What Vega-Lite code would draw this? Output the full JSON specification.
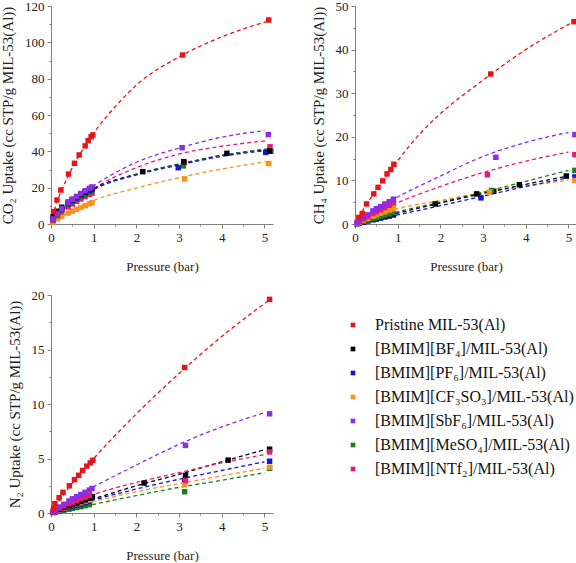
{
"$schema": "https://vega.github.io/schema/vega-lite/v6.json",
"padding": {"left": 0, "top": 0, "right": 0, "bottom": 0},
"datasets": {
"names": [
{"s":"R","name":"Pristine MIL-53(Al)"},
{"s":"BF4","name":"[BMIM][BF₄]/MIL-53(Al)"},
{"s":"PF6","name":"[BMIM][PF₆]/MIL-53(Al)"},
{"s":"CF3","name":"[BMIM][CF₃SO₃]/MIL-53(Al)"},
{"s":"SbF6","name":"[BMIM][SbF₆]/MIL-53(Al)"},
{"s":"MeSO4","name":"[BMIM][MeSO₄]/MIL-53(Al)"},
{"s":"NTf2","name":"[BMIM][NTf₂]/MIL-53(Al)"}
],
"d": [
{"g":"a","k":"f","s":"R","x":0,"y":0},{"g":"a","k":"f","s":"R","x":0.1,"y":9.5},{"g":"a","k":"f","s":"R","x":0.25,"y":18.5},{"g":"a","k":"f","s":"R","x":0.5,"y":31},{"g":"a","k":"f","s":"R","x":1,"y":50},{"g":"a","k":"f","s":"R","x":1.5,"y":64.5},{"g":"a","k":"f","s":"R","x":2,"y":76.5},{"g":"a","k":"f","s":"R","x":3,"y":92},{"g":"a","k":"f","s":"R","x":4,"y":103},{"g":"a","k":"f","s":"R","x":5.1,"y":111.8},
{"g":"a","k":"f","s":"SbF6","x":0,"y":0},{"g":"a","k":"f","s":"SbF6","x":0.5,"y":12.5},{"g":"a","k":"f","s":"SbF6","x":1,"y":21},{"g":"a","k":"f","s":"SbF6","x":2,"y":34},{"g":"a","k":"f","s":"SbF6","x":3,"y":41.8},{"g":"a","k":"f","s":"SbF6","x":4,"y":47.8},{"g":"a","k":"f","s":"SbF6","x":5,"y":51.4},
{"g":"a","k":"f","s":"NTf2","x":0,"y":0},{"g":"a","k":"f","s":"NTf2","x":0.5,"y":11},{"g":"a","k":"f","s":"NTf2","x":1,"y":19.5},{"g":"a","k":"f","s":"NTf2","x":2,"y":31},{"g":"a","k":"f","s":"NTf2","x":3,"y":38.5},{"g":"a","k":"f","s":"NTf2","x":4,"y":42.8},{"g":"a","k":"f","s":"NTf2","x":5.05,"y":45.8},
{"g":"a","k":"f","s":"BF4","x":0,"y":0},{"g":"a","k":"f","s":"BF4","x":0.5,"y":12},{"g":"a","k":"f","s":"BF4","x":1,"y":19.5},{"g":"a","k":"f","s":"BF4","x":2,"y":27.5},{"g":"a","k":"f","s":"BF4","x":3,"y":33},{"g":"a","k":"f","s":"BF4","x":4,"y":37.8},{"g":"a","k":"f","s":"BF4","x":5.05,"y":41},
{"g":"a","k":"f","s":"MeSO4","x":0,"y":0},{"g":"a","k":"f","s":"MeSO4","x":0.5,"y":11.5},{"g":"a","k":"f","s":"MeSO4","x":1,"y":19.2},{"g":"a","k":"f","s":"MeSO4","x":2,"y":27.3},{"g":"a","k":"f","s":"MeSO4","x":3,"y":32.8},{"g":"a","k":"f","s":"MeSO4","x":4,"y":37.6},{"g":"a","k":"f","s":"MeSO4","x":5.05,"y":41.3},
{"g":"a","k":"f","s":"PF6","x":0,"y":0},{"g":"a","k":"f","s":"PF6","x":0.5,"y":11.5},{"g":"a","k":"f","s":"PF6","x":1,"y":19},{"g":"a","k":"f","s":"PF6","x":2,"y":27},{"g":"a","k":"f","s":"PF6","x":3,"y":32.5},{"g":"a","k":"f","s":"PF6","x":4,"y":37.2},{"g":"a","k":"f","s":"PF6","x":5.05,"y":40.5},
{"g":"a","k":"f","s":"CF3","x":0,"y":0},{"g":"a","k":"f","s":"CF3","x":0.5,"y":7.5},{"g":"a","k":"f","s":"CF3","x":1,"y":13},{"g":"a","k":"f","s":"CF3","x":2,"y":19.8},{"g":"a","k":"f","s":"CF3","x":3,"y":25.5},{"g":"a","k":"f","s":"CF3","x":4,"y":30.3},{"g":"a","k":"f","s":"CF3","x":5.05,"y":34.3},

{"g":"a","k":"p","s":"CF3","x":0.05,"y":1},{"g":"a","k":"p","s":"CF3","x":0.15,"y":2.8},{"g":"a","k":"p","s":"CF3","x":0.25,"y":4.2},{"g":"a","k":"p","s":"CF3","x":0.4,"y":6},{"g":"a","k":"p","s":"CF3","x":0.5,"y":7.1},{"g":"a","k":"p","s":"CF3","x":0.6,"y":8.1},{"g":"a","k":"p","s":"CF3","x":0.7,"y":9.1},{"g":"a","k":"p","s":"CF3","x":0.8,"y":10.1},{"g":"a","k":"p","s":"CF3","x":0.9,"y":11.1},{"g":"a","k":"p","s":"CF3","x":0.96,"y":11.7},{"g":"a","k":"p","s":"CF3","x":3.13,"y":24.8},{"g":"a","k":"p","s":"CF3","x":5.1,"y":33.3},
{"g":"a","k":"p","s":"NTf2","x":0.05,"y":2},{"g":"a","k":"p","s":"NTf2","x":0.15,"y":4.5},{"g":"a","k":"p","s":"NTf2","x":0.25,"y":6.8},{"g":"a","k":"p","s":"NTf2","x":0.4,"y":9.5},{"g":"a","k":"p","s":"NTf2","x":0.5,"y":11},{"g":"a","k":"p","s":"NTf2","x":0.6,"y":12.5},{"g":"a","k":"p","s":"NTf2","x":0.7,"y":13.8},{"g":"a","k":"p","s":"NTf2","x":0.8,"y":15.1},{"g":"a","k":"p","s":"NTf2","x":0.9,"y":16.3},{"g":"a","k":"p","s":"NTf2","x":0.96,"y":17},{"g":"a","k":"p","s":"NTf2","x":3.12,"y":33.8},{"g":"a","k":"p","s":"NTf2","x":5.13,"y":42.5},
{"g":"a","k":"p","s":"MeSO4","x":0.05,"y":2.5},{"g":"a","k":"p","s":"MeSO4","x":0.15,"y":5.2},{"g":"a","k":"p","s":"MeSO4","x":0.25,"y":7.6},{"g":"a","k":"p","s":"MeSO4","x":0.4,"y":10.5},{"g":"a","k":"p","s":"MeSO4","x":0.5,"y":12.1},{"g":"a","k":"p","s":"MeSO4","x":0.6,"y":13.6},{"g":"a","k":"p","s":"MeSO4","x":0.7,"y":15},{"g":"a","k":"p","s":"MeSO4","x":0.8,"y":16.3},{"g":"a","k":"p","s":"MeSO4","x":0.9,"y":17.5},{"g":"a","k":"p","s":"MeSO4","x":0.96,"y":18.2},{"g":"a","k":"p","s":"MeSO4","x":3.1,"y":32},{"g":"a","k":"p","s":"MeSO4","x":5.15,"y":40},
{"g":"a","k":"p","s":"PF6","x":0.05,"y":3},{"g":"a","k":"p","s":"PF6","x":0.15,"y":6},{"g":"a","k":"p","s":"PF6","x":0.25,"y":8.5},{"g":"a","k":"p","s":"PF6","x":0.4,"y":11.3},{"g":"a","k":"p","s":"PF6","x":0.5,"y":12.9},{"g":"a","k":"p","s":"PF6","x":0.6,"y":14.4},{"g":"a","k":"p","s":"PF6","x":0.7,"y":15.8},{"g":"a","k":"p","s":"PF6","x":0.8,"y":17.1},{"g":"a","k":"p","s":"PF6","x":0.9,"y":18.4},{"g":"a","k":"p","s":"PF6","x":0.96,"y":19.1},{"g":"a","k":"p","s":"PF6","x":2.98,"y":31},{"g":"a","k":"p","s":"PF6","x":5.03,"y":39.4},
{"g":"a","k":"p","s":"BF4","x":0.05,"y":4},{"g":"a","k":"p","s":"BF4","x":0.15,"y":7},{"g":"a","k":"p","s":"BF4","x":0.25,"y":9.2},{"g":"a","k":"p","s":"BF4","x":0.4,"y":12},{"g":"a","k":"p","s":"BF4","x":0.5,"y":13.5},{"g":"a","k":"p","s":"BF4","x":0.6,"y":15},{"g":"a","k":"p","s":"BF4","x":0.7,"y":16.4},{"g":"a","k":"p","s":"BF4","x":0.8,"y":17.7},{"g":"a","k":"p","s":"BF4","x":0.9,"y":19},{"g":"a","k":"p","s":"BF4","x":0.96,"y":19.8},{"g":"a","k":"p","s":"BF4","x":2.15,"y":28.8},{"g":"a","k":"p","s":"BF4","x":3.11,"y":34.3},{"g":"a","k":"p","s":"BF4","x":4.12,"y":38.9},{"g":"a","k":"p","s":"BF4","x":5.12,"y":40.2},
{"g":"a","k":"p","s":"SbF6","x":0.05,"y":2.8},{"g":"a","k":"p","s":"SbF6","x":0.15,"y":5.8},{"g":"a","k":"p","s":"SbF6","x":0.25,"y":8.5},{"g":"a","k":"p","s":"SbF6","x":0.4,"y":11.8},{"g":"a","k":"p","s":"SbF6","x":0.5,"y":13.6},{"g":"a","k":"p","s":"SbF6","x":0.6,"y":15.2},{"g":"a","k":"p","s":"SbF6","x":0.7,"y":16.8},{"g":"a","k":"p","s":"SbF6","x":0.8,"y":18.3},{"g":"a","k":"p","s":"SbF6","x":0.9,"y":19.6},{"g":"a","k":"p","s":"SbF6","x":0.96,"y":20.4},{"g":"a","k":"p","s":"SbF6","x":3.07,"y":42},{"g":"a","k":"p","s":"SbF6","x":5.09,"y":49.2},
{"g":"a","k":"p","s":"R","x":0.06,"y":6.8},{"g":"a","k":"p","s":"R","x":0.14,"y":13.2},{"g":"a","k":"p","s":"R","x":0.23,"y":18.7},{"g":"a","k":"p","s":"R","x":0.41,"y":27.5},{"g":"a","k":"p","s":"R","x":0.55,"y":33.4},{"g":"a","k":"p","s":"R","x":0.66,"y":38},{"g":"a","k":"p","s":"R","x":0.8,"y":43},{"g":"a","k":"p","s":"R","x":0.87,"y":45.9},{"g":"a","k":"p","s":"R","x":0.94,"y":48},{"g":"a","k":"p","s":"R","x":0.98,"y":49},{"g":"a","k":"p","s":"R","x":3.08,"y":93},{"g":"a","k":"p","s":"R","x":5.1,"y":112.3},

{"g":"b","k":"f","s":"R","x":0,"y":0},{"g":"b","k":"f","s":"R","x":0.25,"y":4.2},{"g":"b","k":"f","s":"R","x":0.5,"y":7.8},{"g":"b","k":"f","s":"R","x":1,"y":14.5},{"g":"b","k":"f","s":"R","x":1.5,"y":20.5},{"g":"b","k":"f","s":"R","x":2,"y":25.3},{"g":"b","k":"f","s":"R","x":3,"y":33},{"g":"b","k":"f","s":"R","x":4,"y":40},{"g":"b","k":"f","s":"R","x":5.1,"y":46.3},
{"g":"b","k":"f","s":"SbF6","x":0,"y":0},{"g":"b","k":"f","s":"SbF6","x":0.5,"y":3.4},{"g":"b","k":"f","s":"SbF6","x":1,"y":6.2},{"g":"b","k":"f","s":"SbF6","x":2,"y":11},{"g":"b","k":"f","s":"SbF6","x":3,"y":15.5},{"g":"b","k":"f","s":"SbF6","x":4,"y":18.7},{"g":"b","k":"f","s":"SbF6","x":5,"y":21},
{"g":"b","k":"f","s":"NTf2","x":0,"y":0},{"g":"b","k":"f","s":"NTf2","x":0.5,"y":2.7},{"g":"b","k":"f","s":"NTf2","x":1,"y":4.9},{"g":"b","k":"f","s":"NTf2","x":2,"y":8.6},{"g":"b","k":"f","s":"NTf2","x":3,"y":11.8},{"g":"b","k":"f","s":"NTf2","x":4,"y":14.4},{"g":"b","k":"f","s":"NTf2","x":5,"y":16.5},
{"g":"b","k":"f","s":"CF3","x":0,"y":0},{"g":"b","k":"f","s":"CF3","x":0.5,"y":2},{"g":"b","k":"f","s":"CF3","x":1,"y":3.5},{"g":"b","k":"f","s":"CF3","x":2,"y":5.4},{"g":"b","k":"f","s":"CF3","x":3,"y":7.2},{"g":"b","k":"f","s":"CF3","x":4,"y":8.7},{"g":"b","k":"f","s":"CF3","x":5,"y":10},
{"g":"b","k":"f","s":"MeSO4","x":0,"y":0},{"g":"b","k":"f","s":"MeSO4","x":0.5,"y":1.5},{"g":"b","k":"f","s":"MeSO4","x":1,"y":2.8},{"g":"b","k":"f","s":"MeSO4","x":2,"y":5},{"g":"b","k":"f","s":"MeSO4","x":3,"y":7.3},{"g":"b","k":"f","s":"MeSO4","x":4,"y":9.8},{"g":"b","k":"f","s":"MeSO4","x":5,"y":12.3},
{"g":"b","k":"f","s":"BF4","x":0,"y":0},{"g":"b","k":"f","s":"BF4","x":0.5,"y":1.3},{"g":"b","k":"f","s":"BF4","x":1,"y":2.5},{"g":"b","k":"f","s":"BF4","x":2,"y":4.8},{"g":"b","k":"f","s":"BF4","x":3,"y":7},{"g":"b","k":"f","s":"BF4","x":4,"y":9.1},{"g":"b","k":"f","s":"BF4","x":5,"y":11},
{"g":"b","k":"f","s":"PF6","x":0,"y":0},{"g":"b","k":"f","s":"PF6","x":0.5,"y":1.1},{"g":"b","k":"f","s":"PF6","x":1,"y":2.1},{"g":"b","k":"f","s":"PF6","x":2,"y":4.2},{"g":"b","k":"f","s":"PF6","x":3,"y":6.4},{"g":"b","k":"f","s":"PF6","x":4,"y":8.6},{"g":"b","k":"f","s":"PF6","x":5,"y":10.6},

{"g":"b","k":"p","s":"PF6","x":0.05,"y":0.1},{"g":"b","k":"p","s":"PF6","x":0.1,"y":0.2},{"g":"b","k":"p","s":"PF6","x":0.2,"y":0.45},{"g":"b","k":"p","s":"PF6","x":0.3,"y":0.7},{"g":"b","k":"p","s":"PF6","x":0.42,"y":0.95},{"g":"b","k":"p","s":"PF6","x":0.5,"y":1.1},{"g":"b","k":"p","s":"PF6","x":0.6,"y":1.35},{"g":"b","k":"p","s":"PF6","x":0.7,"y":1.6},{"g":"b","k":"p","s":"PF6","x":0.8,"y":1.8},{"g":"b","k":"p","s":"PF6","x":0.9,"y":2.05},{"g":"b","k":"p","s":"PF6","x":2.95,"y":6},{"g":"b","k":"p","s":"PF6","x":5.15,"y":10.8},
{"g":"b","k":"p","s":"BF4","x":0.05,"y":0.1},{"g":"b","k":"p","s":"BF4","x":0.1,"y":0.25},{"g":"b","k":"p","s":"BF4","x":0.2,"y":0.5},{"g":"b","k":"p","s":"BF4","x":0.3,"y":0.8},{"g":"b","k":"p","s":"BF4","x":0.42,"y":1.1},{"g":"b","k":"p","s":"BF4","x":0.5,"y":1.3},{"g":"b","k":"p","s":"BF4","x":0.6,"y":1.55},{"g":"b","k":"p","s":"BF4","x":0.7,"y":1.8},{"g":"b","k":"p","s":"BF4","x":0.8,"y":2.1},{"g":"b","k":"p","s":"BF4","x":0.9,"y":2.35},{"g":"b","k":"p","s":"BF4","x":1.88,"y":4.6},{"g":"b","k":"p","s":"BF4","x":2.85,"y":6.9},{"g":"b","k":"p","s":"BF4","x":3.25,"y":7.5},{"g":"b","k":"p","s":"BF4","x":3.85,"y":9},{"g":"b","k":"p","s":"BF4","x":4.95,"y":11},
{"g":"b","k":"p","s":"MeSO4","x":0.05,"y":0.1},{"g":"b","k":"p","s":"MeSO4","x":0.1,"y":0.3},{"g":"b","k":"p","s":"MeSO4","x":0.2,"y":0.6},{"g":"b","k":"p","s":"MeSO4","x":0.3,"y":0.9},{"g":"b","k":"p","s":"MeSO4","x":0.42,"y":1.2},{"g":"b","k":"p","s":"MeSO4","x":0.5,"y":1.4},{"g":"b","k":"p","s":"MeSO4","x":0.6,"y":1.7},{"g":"b","k":"p","s":"MeSO4","x":0.7,"y":2},{"g":"b","k":"p","s":"MeSO4","x":0.8,"y":2.3},{"g":"b","k":"p","s":"MeSO4","x":0.9,"y":2.6},{"g":"b","k":"p","s":"MeSO4","x":3.2,"y":7.7},{"g":"b","k":"p","s":"MeSO4","x":5.15,"y":12.3},
{"g":"b","k":"p","s":"CF3","x":0.05,"y":0.2},{"g":"b","k":"p","s":"CF3","x":0.1,"y":0.4},{"g":"b","k":"p","s":"CF3","x":0.2,"y":0.9},{"g":"b","k":"p","s":"CF3","x":0.3,"y":1.3},{"g":"b","k":"p","s":"CF3","x":0.42,"y":1.8},{"g":"b","k":"p","s":"CF3","x":0.5,"y":2.1},{"g":"b","k":"p","s":"CF3","x":0.6,"y":2.5},{"g":"b","k":"p","s":"CF3","x":0.7,"y":2.8},{"g":"b","k":"p","s":"CF3","x":0.8,"y":3.2},{"g":"b","k":"p","s":"CF3","x":0.9,"y":3.5},{"g":"b","k":"p","s":"CF3","x":3.15,"y":7.3},{"g":"b","k":"p","s":"CF3","x":5.15,"y":10},
{"g":"b","k":"p","s":"NTf2","x":0.05,"y":0.3},{"g":"b","k":"p","s":"NTf2","x":0.1,"y":0.6},{"g":"b","k":"p","s":"NTf2","x":0.2,"y":1.2},{"g":"b","k":"p","s":"NTf2","x":0.3,"y":1.7},{"g":"b","k":"p","s":"NTf2","x":0.42,"y":2.4},{"g":"b","k":"p","s":"NTf2","x":0.5,"y":2.8},{"g":"b","k":"p","s":"NTf2","x":0.6,"y":3.3},{"g":"b","k":"p","s":"NTf2","x":0.7,"y":3.8},{"g":"b","k":"p","s":"NTf2","x":0.8,"y":4.3},{"g":"b","k":"p","s":"NTf2","x":0.9,"y":4.8},{"g":"b","k":"p","s":"NTf2","x":3.1,"y":11.3},{"g":"b","k":"p","s":"NTf2","x":5.15,"y":15.9},
{"g":"b","k":"p","s":"SbF6","x":0.05,"y":0.3},{"g":"b","k":"p","s":"SbF6","x":0.1,"y":0.8},{"g":"b","k":"p","s":"SbF6","x":0.2,"y":1.5},{"g":"b","k":"p","s":"SbF6","x":0.3,"y":2.1},{"g":"b","k":"p","s":"SbF6","x":0.42,"y":3},{"g":"b","k":"p","s":"SbF6","x":0.5,"y":3.5},{"g":"b","k":"p","s":"SbF6","x":0.6,"y":4},{"g":"b","k":"p","s":"SbF6","x":0.7,"y":4.6},{"g":"b","k":"p","s":"SbF6","x":0.8,"y":5.1},{"g":"b","k":"p","s":"SbF6","x":0.9,"y":5.7},{"g":"b","k":"p","s":"SbF6","x":3.3,"y":15.3},{"g":"b","k":"p","s":"SbF6","x":5.15,"y":20.5},
{"g":"b","k":"p","s":"R","x":0.09,"y":1.5},{"g":"b","k":"p","s":"R","x":0.17,"y":2.4},{"g":"b","k":"p","s":"R","x":0.27,"y":4.6},{"g":"b","k":"p","s":"R","x":0.44,"y":6.9},{"g":"b","k":"p","s":"R","x":0.54,"y":8.4},{"g":"b","k":"p","s":"R","x":0.65,"y":9.9},{"g":"b","k":"p","s":"R","x":0.75,"y":11.5},{"g":"b","k":"p","s":"R","x":0.84,"y":12.5},{"g":"b","k":"p","s":"R","x":0.91,"y":13.7},{"g":"b","k":"p","s":"R","x":3.18,"y":34.4},{"g":"b","k":"p","s":"R","x":5.13,"y":46.4},

{"g":"c","k":"f","s":"R","x":0,"y":0},{"g":"c","k":"f","s":"R","x":0.5,"y":2.75},{"g":"c","k":"f","s":"R","x":1,"y":5},{"g":"c","k":"f","s":"R","x":2,"y":9.1},{"g":"c","k":"f","s":"R","x":3,"y":12.8},{"g":"c","k":"f","s":"R","x":4,"y":16.2},{"g":"c","k":"f","s":"R","x":5.1,"y":19.5},
{"g":"c","k":"f","s":"SbF6","x":0,"y":0},{"g":"c","k":"f","s":"SbF6","x":0.5,"y":1.3},{"g":"c","k":"f","s":"SbF6","x":1,"y":2.4},{"g":"c","k":"f","s":"SbF6","x":2,"y":4.4},{"g":"c","k":"f","s":"SbF6","x":3,"y":6.3},{"g":"c","k":"f","s":"SbF6","x":4,"y":7.9},{"g":"c","k":"f","s":"SbF6","x":5,"y":9.2},
{"g":"c","k":"f","s":"BF4","x":0,"y":0},{"g":"c","k":"f","s":"BF4","x":0.5,"y":0.7},{"g":"c","k":"f","s":"BF4","x":1,"y":1.3},{"g":"c","k":"f","s":"BF4","x":2,"y":2.5},{"g":"c","k":"f","s":"BF4","x":3,"y":3.55},{"g":"c","k":"f","s":"BF4","x":4,"y":4.7},{"g":"c","k":"f","s":"BF4","x":5,"y":5.8},
{"g":"c","k":"f","s":"NTf2","x":0,"y":0},{"g":"c","k":"f","s":"NTf2","x":0.5,"y":0.95},{"g":"c","k":"f","s":"NTf2","x":1,"y":1.7},{"g":"c","k":"f","s":"NTf2","x":2,"y":2.8},{"g":"c","k":"f","s":"NTf2","x":3,"y":3.7},{"g":"c","k":"f","s":"NTf2","x":4,"y":4.6},{"g":"c","k":"f","s":"NTf2","x":5,"y":5.35},
{"g":"c","k":"f","s":"PF6","x":0,"y":0},{"g":"c","k":"f","s":"PF6","x":0.5,"y":0.65},{"g":"c","k":"f","s":"PF6","x":1,"y":1.2},{"g":"c","k":"f","s":"PF6","x":2,"y":2.2},{"g":"c","k":"f","s":"PF6","x":3,"y":3.1},{"g":"c","k":"f","s":"PF6","x":4,"y":3.9},{"g":"c","k":"f","s":"PF6","x":5,"y":4.7},
{"g":"c","k":"f","s":"CF3","x":0,"y":0},{"g":"c","k":"f","s":"CF3","x":0.5,"y":0.55},{"g":"c","k":"f","s":"CF3","x":1,"y":1.05},{"g":"c","k":"f","s":"CF3","x":2,"y":1.95},{"g":"c","k":"f","s":"CF3","x":3,"y":2.7},{"g":"c","k":"f","s":"CF3","x":4,"y":3.4},{"g":"c","k":"f","s":"CF3","x":5,"y":4.1},
{"g":"c","k":"f","s":"MeSO4","x":0,"y":0},{"g":"c","k":"f","s":"MeSO4","x":0.5,"y":0.42},{"g":"c","k":"f","s":"MeSO4","x":1,"y":0.8},{"g":"c","k":"f","s":"MeSO4","x":2,"y":1.6},{"g":"c","k":"f","s":"MeSO4","x":3,"y":2.35},{"g":"c","k":"f","s":"MeSO4","x":4,"y":3},{"g":"c","k":"f","s":"MeSO4","x":5,"y":3.7},

{"g":"c","k":"p","s":"MeSO4","x":0.05,"y":0.04},{"g":"c","k":"p","s":"MeSO4","x":0.1,"y":0.08},{"g":"c","k":"p","s":"MeSO4","x":0.2,"y":0.17},{"g":"c","k":"p","s":"MeSO4","x":0.3,"y":0.25},{"g":"c","k":"p","s":"MeSO4","x":0.42,"y":0.35},{"g":"c","k":"p","s":"MeSO4","x":0.5,"y":0.42},{"g":"c","k":"p","s":"MeSO4","x":0.6,"y":0.5},{"g":"c","k":"p","s":"MeSO4","x":0.7,"y":0.58},{"g":"c","k":"p","s":"MeSO4","x":0.8,"y":0.67},{"g":"c","k":"p","s":"MeSO4","x":0.9,"y":0.76},{"g":"c","k":"p","s":"MeSO4","x":3.13,"y":1.95},{"g":"c","k":"p","s":"MeSO4","x":5.12,"y":4.1},
{"g":"c","k":"p","s":"PF6","x":0.05,"y":0.06},{"g":"c","k":"p","s":"PF6","x":0.1,"y":0.12},{"g":"c","k":"p","s":"PF6","x":0.2,"y":0.25},{"g":"c","k":"p","s":"PF6","x":0.3,"y":0.37},{"g":"c","k":"p","s":"PF6","x":0.42,"y":0.5},{"g":"c","k":"p","s":"PF6","x":0.5,"y":0.6},{"g":"c","k":"p","s":"PF6","x":0.6,"y":0.72},{"g":"c","k":"p","s":"PF6","x":0.7,"y":0.84},{"g":"c","k":"p","s":"PF6","x":0.8,"y":0.95},{"g":"c","k":"p","s":"PF6","x":0.9,"y":1.07},{"g":"c","k":"p","s":"PF6","x":3.13,"y":2.85},{"g":"c","k":"p","s":"PF6","x":5.12,"y":4.75},
{"g":"c","k":"p","s":"CF3","x":0.05,"y":0.08},{"g":"c","k":"p","s":"CF3","x":0.1,"y":0.15},{"g":"c","k":"p","s":"CF3","x":0.2,"y":0.3},{"g":"c","k":"p","s":"CF3","x":0.3,"y":0.45},{"g":"c","k":"p","s":"CF3","x":0.42,"y":0.6},{"g":"c","k":"p","s":"CF3","x":0.5,"y":0.7},{"g":"c","k":"p","s":"CF3","x":0.6,"y":0.85},{"g":"c","k":"p","s":"CF3","x":0.7,"y":0.95},{"g":"c","k":"p","s":"CF3","x":0.8,"y":1.1},{"g":"c","k":"p","s":"CF3","x":0.9,"y":1.2},{"g":"c","k":"p","s":"CF3","x":3.13,"y":2.6},{"g":"c","k":"p","s":"CF3","x":5.12,"y":4.2},
{"g":"c","k":"p","s":"BF4","x":0.05,"y":0.1},{"g":"c","k":"p","s":"BF4","x":0.1,"y":0.2},{"g":"c","k":"p","s":"BF4","x":0.2,"y":0.35},{"g":"c","k":"p","s":"BF4","x":0.3,"y":0.5},{"g":"c","k":"p","s":"BF4","x":0.42,"y":0.65},{"g":"c","k":"p","s":"BF4","x":0.5,"y":0.75},{"g":"c","k":"p","s":"BF4","x":0.6,"y":0.9},{"g":"c","k":"p","s":"BF4","x":0.7,"y":1.05},{"g":"c","k":"p","s":"BF4","x":0.8,"y":1.2},{"g":"c","k":"p","s":"BF4","x":0.9,"y":1.35},{"g":"c","k":"p","s":"BF4","x":0.97,"y":1.5},{"g":"c","k":"p","s":"BF4","x":2.18,"y":2.75},{"g":"c","k":"p","s":"BF4","x":3.15,"y":3.45},{"g":"c","k":"p","s":"BF4","x":4.15,"y":4.85},{"g":"c","k":"p","s":"BF4","x":5.12,"y":5.85},
{"g":"c","k":"p","s":"NTf2","x":0.05,"y":0.1},{"g":"c","k":"p","s":"NTf2","x":0.1,"y":0.2},{"g":"c","k":"p","s":"NTf2","x":0.2,"y":0.45},{"g":"c","k":"p","s":"NTf2","x":0.3,"y":0.65},{"g":"c","k":"p","s":"NTf2","x":0.42,"y":0.85},{"g":"c","k":"p","s":"NTf2","x":0.5,"y":1},{"g":"c","k":"p","s":"NTf2","x":0.6,"y":1.15},{"g":"c","k":"p","s":"NTf2","x":0.7,"y":1.3},{"g":"c","k":"p","s":"NTf2","x":0.8,"y":1.45},{"g":"c","k":"p","s":"NTf2","x":0.9,"y":1.6},{"g":"c","k":"p","s":"NTf2","x":3.15,"y":3},{"g":"c","k":"p","s":"NTf2","x":5.12,"y":5.6},
{"g":"c","k":"p","s":"SbF6","x":0.05,"y":0.15},{"g":"c","k":"p","s":"SbF6","x":0.1,"y":0.3},{"g":"c","k":"p","s":"SbF6","x":0.2,"y":0.55},{"g":"c","k":"p","s":"SbF6","x":0.3,"y":0.8},{"g":"c","k":"p","s":"SbF6","x":0.42,"y":1.1},{"g":"c","k":"p","s":"SbF6","x":0.5,"y":1.3},{"g":"c","k":"p","s":"SbF6","x":0.6,"y":1.5},{"g":"c","k":"p","s":"SbF6","x":0.7,"y":1.7},{"g":"c","k":"p","s":"SbF6","x":0.8,"y":1.9},{"g":"c","k":"p","s":"SbF6","x":0.9,"y":2.1},{"g":"c","k":"p","s":"SbF6","x":0.96,"y":2.25},{"g":"c","k":"p","s":"SbF6","x":3.15,"y":6.2},{"g":"c","k":"p","s":"SbF6","x":5.12,"y":9.1},
{"g":"c","k":"p","s":"R","x":0.06,"y":0.4},{"g":"c","k":"p","s":"R","x":0.09,"y":0.86},{"g":"c","k":"p","s":"R","x":0.19,"y":1.4},{"g":"c","k":"p","s":"R","x":0.28,"y":1.9},{"g":"c","k":"p","s":"R","x":0.43,"y":2.5},{"g":"c","k":"p","s":"R","x":0.55,"y":3.06},{"g":"c","k":"p","s":"R","x":0.65,"y":3.46},{"g":"c","k":"p","s":"R","x":0.74,"y":3.9},{"g":"c","k":"p","s":"R","x":0.84,"y":4.3},{"g":"c","k":"p","s":"R","x":0.92,"y":4.6},{"g":"c","k":"p","s":"R","x":0.98,"y":4.84},{"g":"c","k":"p","s":"R","x":3.13,"y":13.35},{"g":"c","k":"p","s":"R","x":5.12,"y":19.6}
]
},
"data": {"name": "d"},
"transform": [{"lookup": "s", "from": {"data": {"name": "names"}, "key": "s", "fields": ["name"]}}],
"columns": 2,
"spacing": {"row": 71, "column": 82},
"bounds": "flush",
"concat": [
{
"width": 222, "height": 218,
"transform": [{"filter": "datum.g === 'a'"}],
"encoding": {
"x": {"field": "x", "type": "quantitative", "scale": {"domain": [0, 5.2], "nice": false, "zero": false},
"axis": {"title": "Pressure (bar)", "values": [0,0.5,1,1.5,2,2.5,3,3.5,4,4.5,5], "labelExpr": "datum.value % 1 === 0 ? '' + datum.value : ''", "tickSize": {"condition": {"test": "datum.value % 1 !== 0", "value": 2}, "value": 4}}},
"y": {"field": "y", "type": "quantitative", "scale": {"domain": [0, 120], "nice": false},
"axis": {"title": "CO₂ Uptake (cc STP/g MIL-53(Al))", "values": [0,10,20,30,40,50,60,70,80,90,100,110,120], "labelExpr": "datum.value % 20 === 0 ? '' + datum.value : ''", "tickSize": {"condition": {"test": "datum.value % 20 !== 0", "value": 2}, "value": 4}}}
},
"layer": [
{"transform": [{"filter": "datum.k === 'f'"}],
"mark": {"type": "line", "strokeDash": [4, 3], "strokeWidth": 1.3, "interpolate": "monotone"},
"encoding": {"color": {"field": "name", "type": "nominal"}}},
{"transform": [{"filter": "datum.k === 'p'"}],
"mark": {"type": "point", "shape": "square", "filled": true, "size": 30, "opacity": 1},
"encoding": {"color": {"field": "name", "type": "nominal",
"scale": {"domain": ["Pristine MIL-53(Al)","[BMIM][BF₄]/MIL-53(Al)","[BMIM][PF₆]/MIL-53(Al)","[BMIM][CF₃SO₃]/MIL-53(Al)","[BMIM][SbF₆]/MIL-53(Al)","[BMIM][MeSO₄]/MIL-53(Al)","[BMIM][NTf₂]/MIL-53(Al)"],
"range": ["#e8141b","#000000","#1515d8","#f7931e","#8e2de2","#1e7d1e","#e8197d"]},
"legend": {"title": null, "orient": "none", "direction": "vertical", "legendX": 294, "legendY": 311, "symbolType": "square", "symbolSize": 22, "symbolFillColor": null, "symbolStrokeWidth": 0, "symbolDash": [], "labelFontSize": 16, "labelFont": "Liberation Serif", "labelColor": "#111", "labelOffset": 14, "rowPadding": 8, "labelLimit": 400, "padding": 0}}}},
{"data": {"values": [{}]},
"mark": {"type": "text", "text": "(a)", "font": "Liberation Serif", "fontSize": 14, "fontWeight": "bold", "align": "left", "baseline": "middle", "color": "#111"},
"encoding": {"x": {"datum": 0.08}, "y": {"datum": 113.9}}}
]
},
{
"width": 222, "height": 218,
"transform": [{"filter": "datum.g === 'b'"}],
"encoding": {
"x": {"field": "x", "type": "quantitative", "scale": {"domain": [0, 5.2], "nice": false, "zero": false},
"axis": {"title": "Pressure (bar)", "values": [0,0.5,1,1.5,2,2.5,3,3.5,4,4.5,5], "labelExpr": "datum.value % 1 === 0 ? '' + datum.value : ''", "tickSize": {"condition": {"test": "datum.value % 1 !== 0", "value": 2}, "value": 4}}},
"y": {"field": "y", "type": "quantitative", "scale": {"domain": [0, 50], "nice": false},
"axis": {"title": "CH₄ Uptake (cc STP/g MIL-53(Al))", "values": [0,5,10,15,20,25,30,35,40,45,50], "labelExpr": "datum.value % 10 === 0 ? '' + datum.value : ''", "tickSize": {"condition": {"test": "datum.value % 10 !== 0", "value": 2}, "value": 4}}}
},
"layer": [
{"transform": [{"filter": "datum.k === 'f'"}],
"mark": {"type": "line", "strokeDash": [4, 3], "strokeWidth": 1.3, "interpolate": "monotone"},
"encoding": {"color": {"field": "name", "type": "nominal"}}},
{"transform": [{"filter": "datum.k === 'p'"}],
"mark": {"type": "point", "shape": "square", "filled": true, "size": 30, "opacity": 1},
"encoding": {"color": {"field": "name", "type": "nominal"}}},
{"data": {"values": [{}]},
"mark": {"type": "text", "text": "(b)", "font": "Liberation Serif", "fontSize": 14, "fontWeight": "bold", "align": "left", "baseline": "middle", "color": "#111"},
"encoding": {"x": {"datum": 0.08}, "y": {"datum": 47.5}}}
]
},
{
"width": 222, "height": 218,
"transform": [{"filter": "datum.g === 'c'"}],
"encoding": {
"x": {"field": "x", "type": "quantitative", "scale": {"domain": [0, 5.2], "nice": false, "zero": false},
"axis": {"title": "Pressure (bar)", "values": [0,0.5,1,1.5,2,2.5,3,3.5,4,4.5,5], "labelExpr": "datum.value % 1 === 0 ? '' + datum.value : ''", "tickSize": {"condition": {"test": "datum.value % 1 !== 0", "value": 2}, "value": 4}}},
"y": {"field": "y", "type": "quantitative", "scale": {"domain": [0, 20], "nice": false},
"axis": {"title": "N₂ Uptake (cc STP/g MIL-53(Al))", "values": [0,2.5,5,7.5,10,12.5,15,17.5,20], "labelExpr": "datum.value % 5 === 0 ? '' + datum.value : ''", "tickSize": {"condition": {"test": "datum.value % 5 !== 0", "value": 2}, "value": 4}}}
},
"layer": [
{"transform": [{"filter": "datum.k === 'f'"}],
"mark": {"type": "line", "strokeDash": [4, 3], "strokeWidth": 1.3, "interpolate": "monotone"},
"encoding": {"color": {"field": "name", "type": "nominal"}}},
{"transform": [{"filter": "datum.k === 'p'"}],
"mark": {"type": "point", "shape": "square", "filled": true, "size": 30, "opacity": 1},
"encoding": {"color": {"field": "name", "type": "nominal"}}},
{"data": {"values": [{}]},
"mark": {"type": "text", "text": "(c)", "font": "Liberation Serif", "fontSize": 14, "fontWeight": "bold", "align": "left", "baseline": "middle", "color": "#111"},
"encoding": {"x": {"datum": 0.08}, "y": {"datum": 19.1}}}
]
}
],
"config": {
"view": {"stroke": null},
"font": "Liberation Serif",
"axis": {"grid": false, "domainColor": "#808080", "tickColor": "#808080", "labelFont": "Liberation Serif", "labelFontSize": 13, "labelColor": "#222", "labelPadding": 3, "labelFlush": false, "labelOverlap": false, "titleFont": "Liberation Serif", "titleFontWeight": "normal", "titleColor": "#222"},
"axisX": {"titleFontSize": 13, "titlePadding": 16},
"axisY": {"titleFontSize": 15, "titlePadding": 9}
}
}
